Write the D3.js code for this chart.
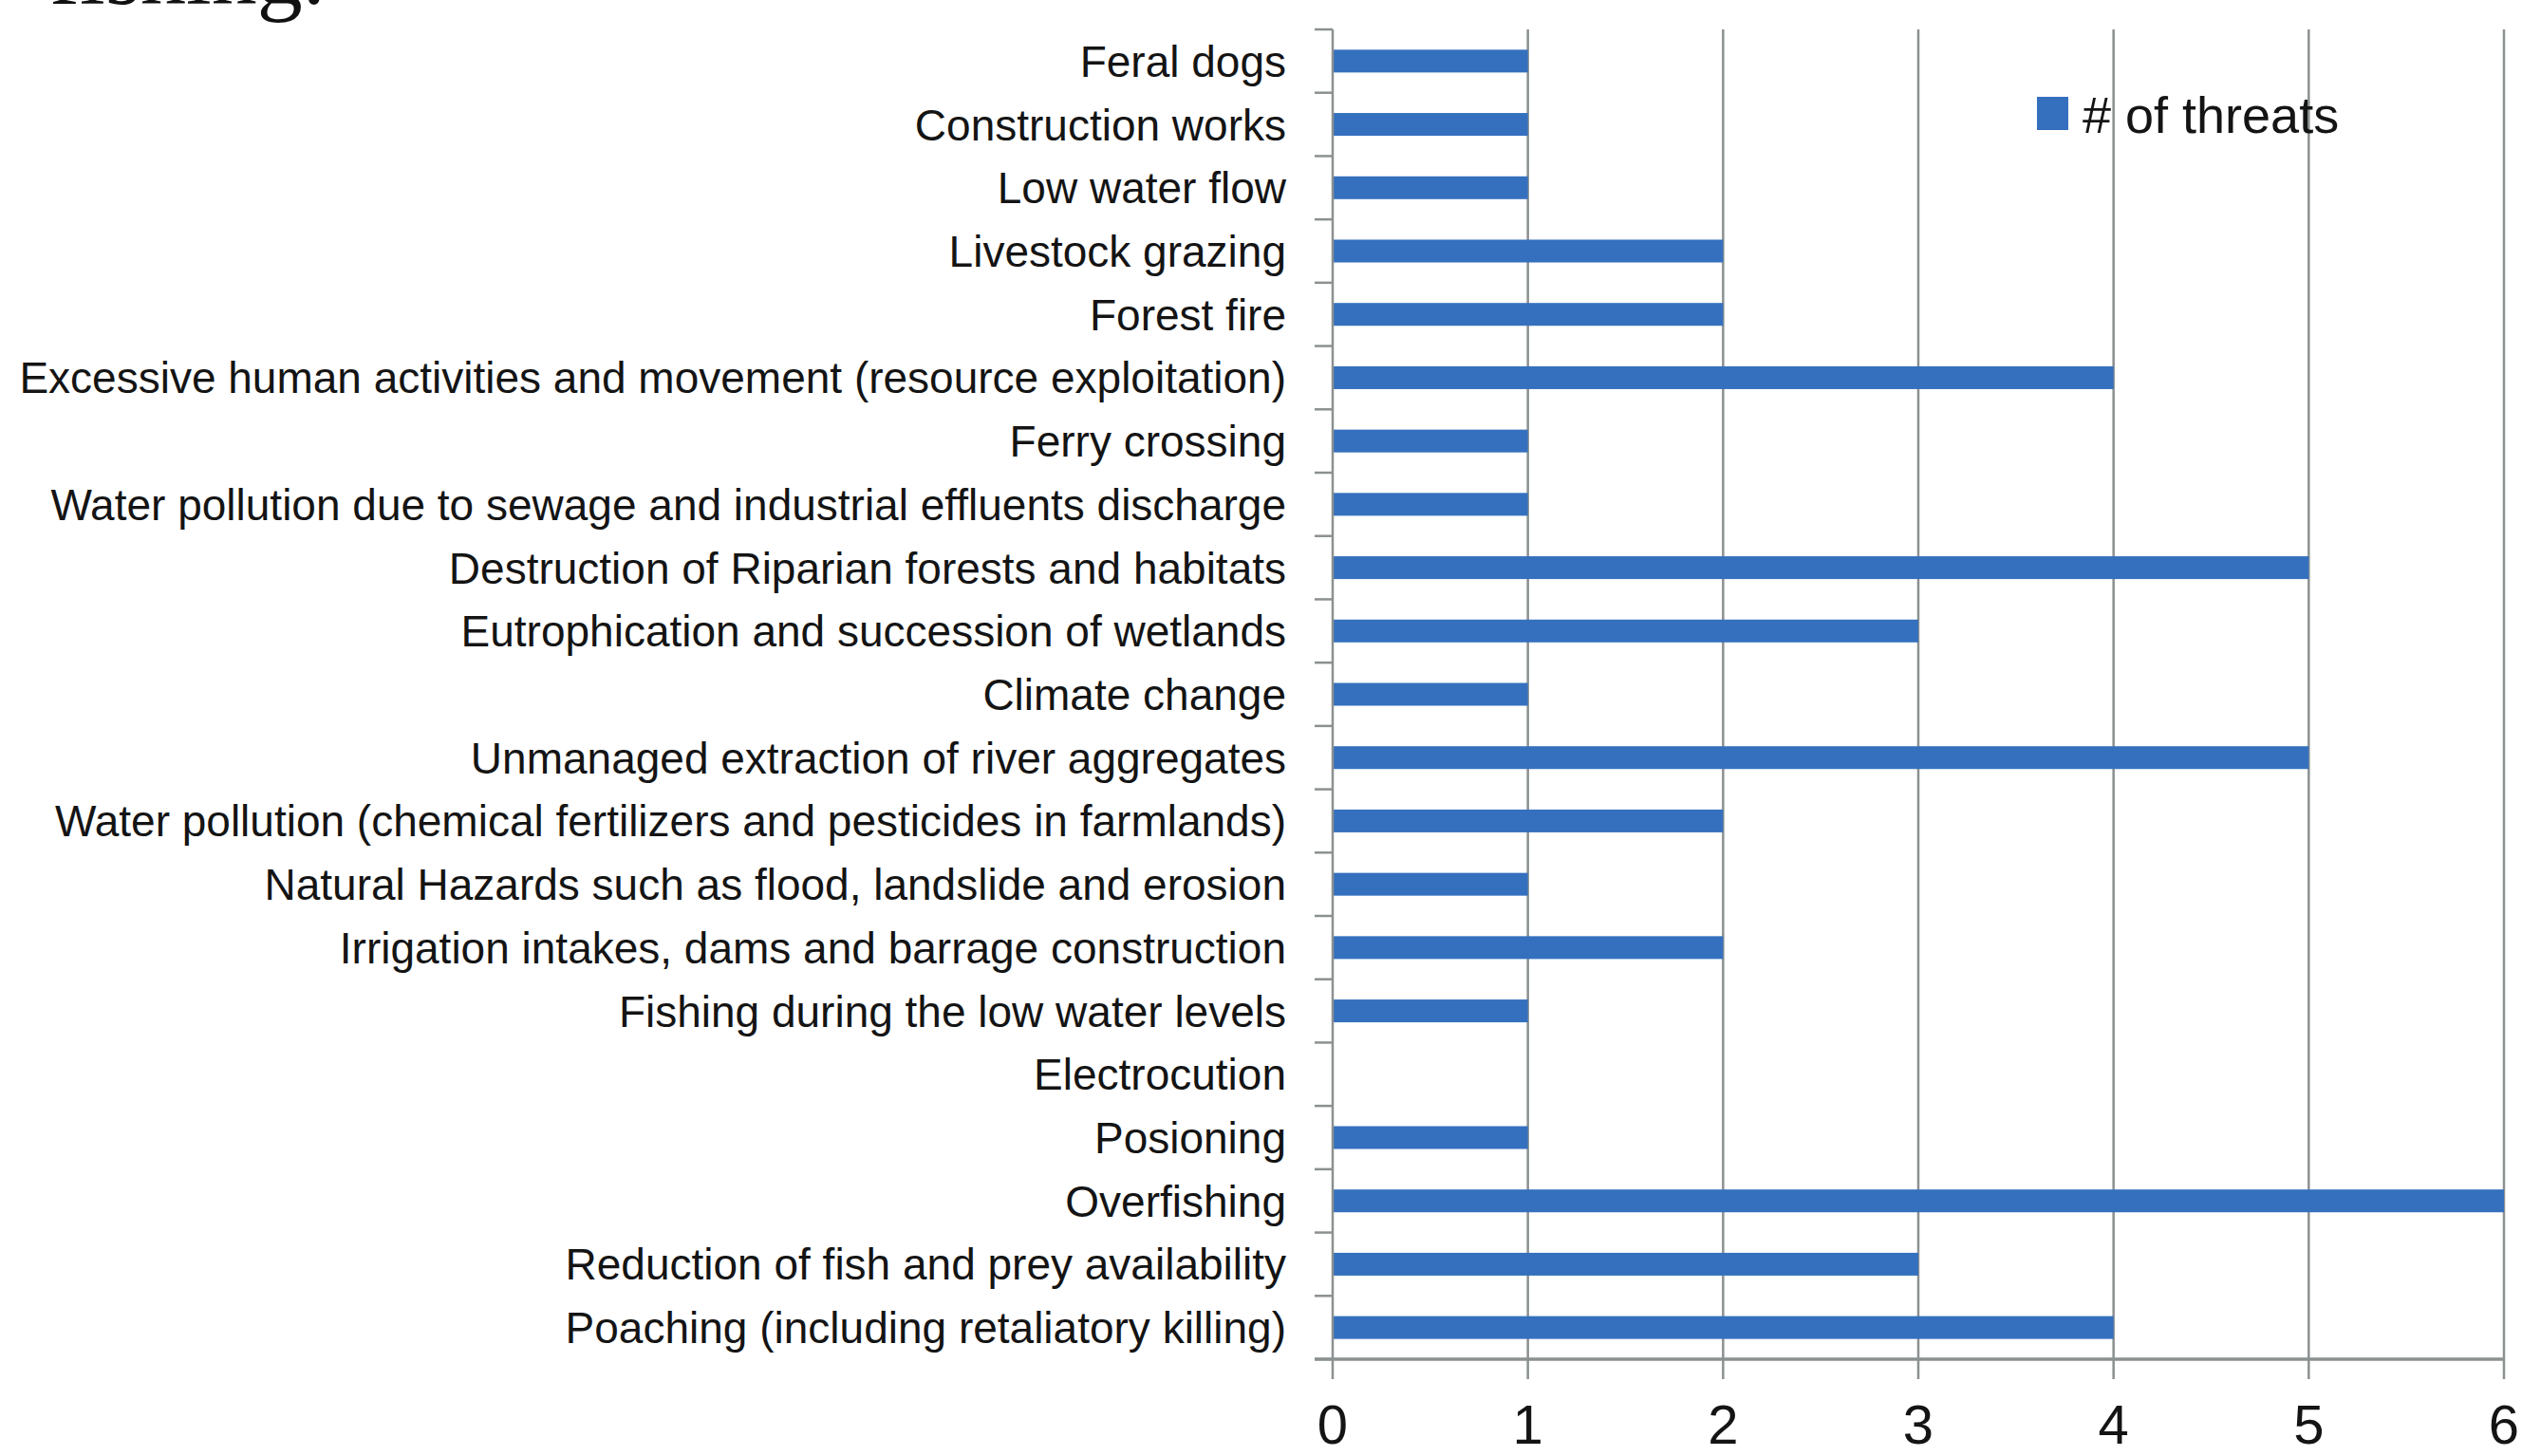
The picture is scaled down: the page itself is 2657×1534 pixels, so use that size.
<!DOCTYPE html>
<html>
<head>
<meta charset="utf-8">
<script src="https://cdn.jsdelivr.net/npm/d3@7"></script>
<style>
  html, body { margin: 0; padding: 0; background: #fff; }
  svg { display: block; }
</style>
</head>
<body>
<svg id="chart" width="2657" height="1534"></svg>
<script>
// ---- data (top to bottom as shown) ----
const categories = [
  "Feral dogs",
  "Construction works",
  "Low water flow",
  "Livestock grazing",
  "Forest fire",
  "Excessive human activities and movement (resource exploitation)",
  "Ferry crossing",
  "Water pollution due to sewage and industrial effluents discharge",
  "Destruction of Riparian forests and habitats",
  "Eutrophication and succession of wetlands",
  "Climate change",
  "Unmanaged extraction of river aggregates",
  "Water pollution (chemical fertilizers and pesticides in farmlands)",
  "Natural Hazards such as flood, landslide and erosion",
  "Irrigation intakes, dams and barrage construction",
  "Fishing during the low water levels",
  "Electrocution",
  "Posioning",
  "Overfishing",
  "Reduction of fish and prey availability",
  "Poaching (including retaliatory killing)"
];
const threats = [1, 1, 1, 2, 2, 4, 1, 1, 5, 3, 1, 5, 2, 1, 2, 1, 0, 1, 6, 3, 4];
const xTicks = [0, 1, 2, 3, 4, 5, 6];
const seriesName = "# of threats";
const topText = "fishing.";

// ---- layout ----
const W = 2657, H = 1534;
const plot = { left: 1404, right: 2638, top: 31, bottom: 1432 };
const barColor = "#3570be";
const gridColor = "#8b9090";
const labelFont = "'Liberation Sans', Arial, sans-serif";

const svg = d3.select("#chart");
svg.append("rect").attr("width", W).attr("height", H).attr("fill", "#fff");

const x = d3.scaleLinear().domain([0, 6]).range([plot.left, plot.right]);
const y = d3.scaleBand().domain(categories).range([plot.top, plot.bottom])
  .paddingInner(0.64).paddingOuter(0.32);
const yBand = d3.scaleBand().domain(categories).range([plot.top, plot.bottom]).padding(0);

// top partial text (cut off at the top edge in the reference)
svg.append("text")
  .attr("x", 52).attr("y", 4)
  .attr("font-family", "'Liberation Serif', 'Times New Roman', serif")
  .attr("font-size", 96)
  .attr("fill", "#111")
  .text(topText);

// vertical gridlines (extend below axis as tick marks)
svg.append("g").selectAll("line").data(xTicks.filter(d => d > 0)).join("line")
  .attr("x1", d => x(d)).attr("x2", d => x(d))
  .attr("y1", plot.top).attr("y2", plot.bottom + 21)
  .attr("stroke", gridColor).attr("stroke-width", 2.5);

// bars
svg.append("g").selectAll("rect").data(categories).join("rect")
  .attr("x", x(0))
  .attr("y", d => y(d))
  .attr("width", (d, i) => x(threats[i]) - x(0))
  .attr("height", y.bandwidth())
  .attr("fill", barColor);

// y axis line + boundary ticks
const boundaries = categories.map(c => yBand(c)).concat([plot.bottom]);
const yAxisG = svg.append("g");
yAxisG.append("line")
  .attr("x1", plot.left).attr("x2", plot.left)
  .attr("y1", plot.top).attr("y2", plot.bottom + 21)
  .attr("stroke", gridColor).attr("stroke-width", 2.5);
yAxisG.selectAll("line.tk").data(boundaries).join("line").attr("class", "tk")
  .attr("x1", plot.left - 19).attr("x2", plot.left)
  .attr("y1", d => d).attr("y2", d => d)
  .attr("stroke", gridColor).attr("stroke-width", 2.5);

// x axis baseline
svg.append("line")
  .attr("x1", plot.left - 19).attr("x2", plot.right)
  .attr("y1", plot.bottom).attr("y2", plot.bottom)
  .attr("stroke", gridColor).attr("stroke-width", 3.5);

// category labels
svg.append("g").selectAll("text").data(categories).join("text")
  .attr("transform", d => `translate(${plot.left - 49},${yBand(d) + yBand.bandwidth() / 2})`)
  .attr("text-anchor", "end")
  .attr("dy", "0.36em")
  .attr("font-family", labelFont)
  .attr("font-size", 46)
  .attr("fill", "#141414")
  .text(d => d);

// x tick labels
svg.append("g").selectAll("text").data(xTicks).join("text")
  .attr("x", d => x(d)).attr("y", 1521)
  .attr("text-anchor", "middle")
  .attr("font-family", labelFont)
  .attr("font-size", 58)
  .attr("fill", "#141414")
  .text(d => d);

// legend
const lg = svg.append("g");
lg.append("rect").attr("x", 2146).attr("y", 102).attr("width", 33).attr("height", 35).attr("fill", barColor);
lg.append("text").attr("x", 2194).attr("y", 140)
  .attr("font-family", labelFont).attr("font-size", 54).attr("fill", "#141414")
  .text(seriesName);
</script>
</body>
</html>
